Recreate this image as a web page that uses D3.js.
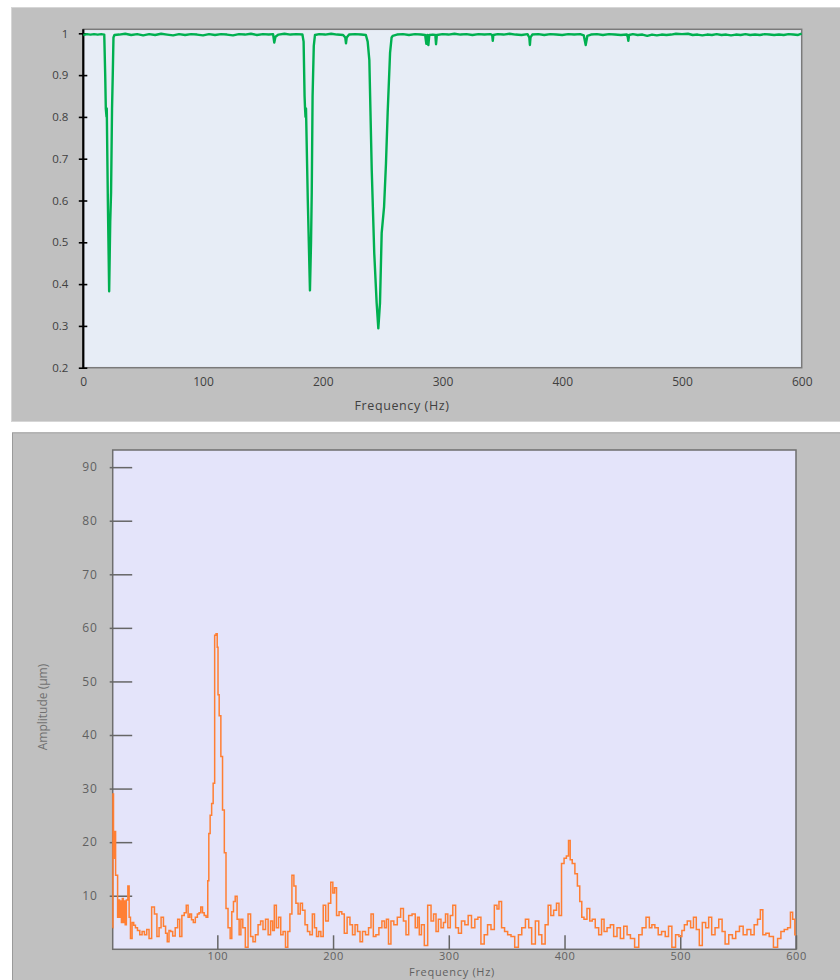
<!DOCTYPE html>
<html><head><meta charset="utf-8">
<script src="https://cdn.jsdelivr.net/npm/d3@7/dist/d3.min.js"></script>
<style>body{margin:0;background:#fff}</style>
</head><body><svg id="c" width="840" height="980"></svg>
<script>
// ---------- Top chart data (transmission-like curve) ----------
const greenFreq=[0,3,6,9,12,15,17.5,18.3,18.8,19.4,19.6,20.5,21.6,22.5,23.2,24,24.6,25.2,26,30,35,40,45,50,55,60,65,70,75,80,85,90,95,100,105,110,115,120,125,130,135,140,145,150,155,158.5,159.5,160.5,163,168,173,178,183,184,184.8,185.2,185.6,186,187.5,189.3,190.2,190.8,191.5,192.5,193.5,197,202,207,212,217,218.8,219.4,220,222,227,232,236,237.5,238.9,240.9,243,245,246.4,247.8,249.2,251.2,252.8,254.2,256.2,257.5,258.4,262,267,272,277,282,285.5,286.5,287.3,288.2,289,292,294,294.6,295.3,300,305,310,315,320,325,330,335,340,341.5,342,342.5,346,351,356,361,366,371,372.5,373,373.5,375,380,385,390,395,400,405,410,415,418,419.6,421,424,429,434,439,444,449,454,454.8,455.2,455.8,459,463,467,471,475,479,483,487,491,495,500,505,509,513,517,521,525,529,533,537,541,545,549,553,557,561,565,569,573,577,581,585,589,593,597,600];
const greenVal=[0.996,0.998,0.997,0.998,0.997,0.998,0.997,0.9,0.82,0.8,0.82,0.6,0.383,0.55,0.62,0.82,0.9,0.99,0.996,0.997,0.999,0.996,0.998,0.995,0.998,0.996,0.999,0.997,0.995,0.998,0.996,0.998,0.997,0.995,0.998,0.996,0.998,0.997,0.995,0.998,0.997,0.999,0.996,0.998,0.997,0.998,0.978,0.992,0.997,0.999,0.997,0.998,0.997,0.98,0.85,0.82,0.8,0.82,0.6,0.385,0.5,0.62,0.85,0.97,0.996,0.998,0.997,0.999,0.997,0.996,0.99,0.976,0.99,0.997,0.998,0.997,0.996,0.98,0.936,0.673,0.474,0.355,0.294,0.355,0.522,0.585,0.689,0.81,0.953,0.99,0.994,0.997,0.998,0.996,0.998,0.997,0.996,0.975,0.996,0.972,0.996,0.997,0.996,0.974,0.996,0.998,0.997,0.999,0.997,0.998,0.996,0.998,0.997,0.998,0.996,0.982,0.996,0.998,0.997,0.999,0.997,0.996,0.998,0.99,0.972,0.99,0.997,0.998,0.996,0.998,0.997,0.996,0.998,0.997,0.998,0.995,0.972,0.994,0.997,0.998,0.996,0.998,0.997,0.996,0.997,0.99,0.982,0.996,0.998,0.996,0.997,0.994,0.997,0.995,0.997,0.996,0.997,0.999,0.998,0.999,0.996,0.997,0.995,0.997,0.996,0.998,0.996,0.997,0.995,0.997,0.996,0.998,0.996,0.997,0.996,0.998,0.997,0.996,0.997,0.996,0.998,0.997,0.996,0.999];
const topYTicks=[0.2,0.3,0.4,0.5,0.6,0.7,0.8,0.9,1];
const topXTicks=[0,100,200,300,400,500,600];

// ---------- Bottom chart data (amplitude spectrum) ----------
const orangeFreq=[9.6,10,10.6,11.2,11.8,12.4,13.5,14.2,15,16,16.8,17.5,18.3,19.2,20,20.8,22,23.4,24.2,25.7,27,28.5,30,32,34,36,38,40,42,44.5,46.8,48.8,50.5,52.3,54.6,56,57.5,59,60.4,62.5,64.7,66.8,68.2,70.5,72.3,74,75.5,76.9,78.5,80,82,83.5,85,86.4,88,89.3,91.3,92.2,93.1,94.5,95.7,97.1,98.3,99.5,100.3,100.9,102.3,103.8,105.2,106.9,108.1,110.4,111.8,113.2,114.7,116.2,118,119.7,121,123,125.4,127.7,129.8,131.8,134,136.4,138.4,140.5,142.8,145,147,148.5,150,152,153.8,155.8,157.8,160,161.8,163.6,165.3,167,168.8,170.8,172.5,174.6,176.9,178.9,181,183.2,184.7,186.7,188.4,190.5,192.5,194.8,197,199,200.6,202,204,206.4,208.7,210.7,213.6,215.6,218,220,222.3,224.3,226.6,229.5,231.8,233.8,235.8,238.2,241,243.4,245.4,246.8,249,251,254,257,259.8,261.8,264.2,266.5,270,272,274,275,277.7,280,283.5,285.8,287.9,290,292,294.5,296.3,298,300.3,302.3,304.6,307.2,309.5,312.4,315.3,318.2,321,324,326.3,329.2,332,335,337.9,340.8,342.5,344.2,347,349.4,352.3,355.2,358.7,361.6,364.5,367.9,370.2,373,376.6,378.9,381.8,384.7,387,389.3,391.9,394.2,396.2,398.6,400.6,402.6,404.3,405.5,407.8,410.1,412.1,414.2,415.6,418,420.8,422.8,425.1,428,431,433,435.3,438.2,441,443.9,446.8,449.7,452.6,455.5,458.4,462.7,465.6,468.5,472.3,474.3,476.6,479.5,482.4,485.3,488.7,491,494.5,497.4,500.3,502.5,504.6,507.5,510.4,512.4,515.3,517.6,520.5,523.4,525.7,528.6,531.5,535,537.3,540.2,543.6,546.5,549.4,552.9,555.8,559.5,562.4,565.3,568.2,570.2,572.5,575.4,578.3,582.7,585.5,588.4,591.3,594.2,596.2,598,600];
const orangeAmp=[4,29,22,17,22,13.8,13.8,6,9.2,6,9,5,9.5,5,9,4.6,9.2,11.8,6,2,5,4.5,4,3.5,2.7,3.3,2.7,3.7,2,7.9,6.6,2.4,4,6,4.3,3,1.4,3.5,3.3,2.5,4,5.6,2.4,6.3,6.8,8.2,6,6.6,5.5,5,6,6.6,6.8,7.9,6.8,6.3,6,12.8,21.6,25,27.2,31,58.6,58.9,56.4,47.5,43.6,36,26,18,7.6,4,2,7,8.9,9.9,5.6,2.7,5.6,4,0.4,6.6,2.4,1.4,2.7,4.6,5.3,3.7,5.6,2.7,5.3,3.5,8.2,4,6,2.7,3.3,0.4,3.3,6.6,13.8,11.8,8.6,6.6,8.6,7.3,4.6,3.3,2.7,6.6,4,2.4,3.3,2.4,8.2,5.3,8.6,12.5,10.5,11.5,6.3,7,6.6,3,6,4.6,2.7,4.6,3.3,1.4,3.3,2.7,4,6.6,2.4,2.7,4,5.3,4,5.6,1,5.3,4.6,6,7.6,5.3,2.7,6.3,6.6,4,6,2.7,4.6,0.7,8.2,5.3,6.6,3.3,5.6,4,5,6.6,4,6.3,8.2,4,3,5.3,4.6,6.3,4,5.6,6,1,2.7,4.6,3.7,8.2,7.5,8.9,4,3.3,2.7,2.4,0.4,2.7,4,5.6,4,1,5.3,2.7,1,4.6,8.2,6.3,7.3,8.6,6.3,16,17,17.4,20.3,16.7,16,14.1,11.8,8.9,6,5.6,7.6,5.3,5.6,4,2.7,5.6,3.3,4,4.6,2.4,4,2,4.3,2.7,2,0.4,2.7,4,6,4,4.6,4,2.7,3.3,2.4,4.3,0.4,2.7,2.4,3.5,4.6,5.3,4,6,3.7,0.7,5,4,6,2.7,4,5.6,3.3,1,2.7,2,3.3,4.3,2.7,3.7,2.7,4.6,5.6,7.4,2.7,3,2.4,0.4,2,3.3,3.7,4,6.9,5.6,2.7];
const botYTicks=[10,20,30,40,50,60,70,80,90];
const botXTicks=[100,200,300,400,500,600];

const svg=d3.select("#c");

// =============== TOP CHART ===============
svg.append("rect").attr("x",11.5).attr("y",7.5).attr("width",840).attr("height",414)
  .attr("fill","#c0c0c0").attr("stroke","#d6d6d6");
const tx=d3.scaleLinear().domain([0,600]).range([83.3,801.7]);
const ty=d3.scaleLinear().domain([0.2,1.0096]).range([367.7,29.3]);
svg.append("rect").attr("x",tx(0)).attr("y",ty(1.0096)).attr("width",tx(600)-tx(0)).attr("height",ty(0.2)-ty(1.0096))
  .attr("fill","#e7edf6").attr("stroke","#7a7a7a").attr("stroke-width",1.5);

const tYAxis=svg.append("g").attr("transform",`translate(${tx(0)},0)`)
  .call(d3.axisLeft(ty).tickValues(topYTicks).tickSize(0).tickPadding(15)
    .tickFormat(d=>d===1?"1":d3.format(".1f")(d)));
tYAxis.select(".domain").remove();
tYAxis.selectAll("text").attr("fill","#404040").style("font-family","'Open Sans',sans-serif").style("font-size","11.5px");
tYAxis.selectAll(".tick").append("line").attr("x1",-4.5).attr("x2",4).attr("stroke","#000").attr("stroke-width",1.6);

const tXAxis=svg.append("g").attr("transform",`translate(0,${ty(0.2)})`)
  .call(d3.axisBottom(tx).tickValues(topXTicks).tickSize(0).tickPadding(10));
tXAxis.select(".domain").remove();
tXAxis.selectAll("text").attr("fill","#404040").style("font-family","'Open Sans',sans-serif").style("font-size","12px");

svg.append("line").attr("x1",tx(0)).attr("x2",tx(0)).attr("y1",ty(1.0096)).attr("y2",ty(0.2)+1)
  .attr("stroke","#000").attr("stroke-width",2.2);

svg.append("text").attr("x",402).attr("y",410).attr("text-anchor","middle")
  .attr("fill","#404040").style("font-family","'Open Sans',sans-serif").style("font-size","12.5px")
  .style("letter-spacing","0.6px").text("Frequency (Hz)");

const gLine=d3.line().x((d,i)=>tx(greenFreq[i])).y(d=>ty(d));
svg.append("path").datum(greenVal).attr("d",gLine).attr("fill","none")
  .attr("stroke","#00b050").attr("stroke-width",2.4).attr("stroke-linejoin","round");

// =============== BOTTOM CHART ===============
svg.append("rect").attr("x",12.5).attr("y",432.8).attr("width",840).attr("height",560)
  .attr("fill","#c0c0c0").attr("stroke","#9a9a9a");
const bx=d3.scaleLinear().domain([9.6,600]).range([112.7,796]);
const by=d3.scaleLinear().domain([0,93.2]).range([949.3,450]);
svg.append("rect").attr("x",bx(9.6)).attr("y",by(93.2)).attr("width",bx(600)-bx(9.6)).attr("height",by(0)-by(93.2))
  .attr("fill","#e4e4fa").attr("stroke","#6e6e6e").attr("stroke-width",1.5);

const bYAxis=svg.append("g").attr("transform",`translate(${bx(9.6)},0)`)
  .call(d3.axisLeft(by).tickValues(botYTicks).tickSize(0).tickPadding(15));
bYAxis.select(".domain").remove();
bYAxis.selectAll("text").attr("fill","#606060").style("font-family","'Open Sans',sans-serif").style("font-size","12px").style("letter-spacing","0.8px");
bYAxis.selectAll(".tick").append("line").attr("x1",-3).attr("x2",19.5).attr("stroke","#666").attr("stroke-width",1.5);

const bXAxis=svg.append("g").attr("transform",`translate(0,${by(0)})`)
  .call(d3.axisBottom(bx).tickValues(botXTicks).tickSize(0).tickPadding(3));
bXAxis.select(".domain").remove();
bXAxis.selectAll("text").attr("fill","#606060").style("font-family","'Open Sans',sans-serif").style("font-size","11px").style("letter-spacing","0.6px");
bXAxis.selectAll(".tick").append("line").attr("y1",0).attr("y2",-14).attr("stroke","#666").attr("stroke-width",1.5);

svg.append("text").attr("x",452).attr("y",976).attr("text-anchor","middle")
  .attr("fill","#606060").style("font-family","'Open Sans',sans-serif").style("font-size","11px")
  .style("letter-spacing","0.7px").text("Frequency (Hz)");
svg.append("text").attr("transform","translate(47,707) rotate(-90)").attr("text-anchor","middle")
  .attr("fill","#707070").style("font-family","'Open Sans',sans-serif").style("font-size","12px")
  .text("Amplitude (µm)");

const oLine=d3.line().curve(d3.curveStep).x((d,i)=>bx(orangeFreq[i])).y(d=>by(d));
svg.append("path").datum(orangeAmp).attr("d",oLine).attr("fill","none")
  .attr("stroke","#ff7f33").attr("stroke-width",1.5).attr("stroke-linejoin","miter");
</script>
</body></html>
